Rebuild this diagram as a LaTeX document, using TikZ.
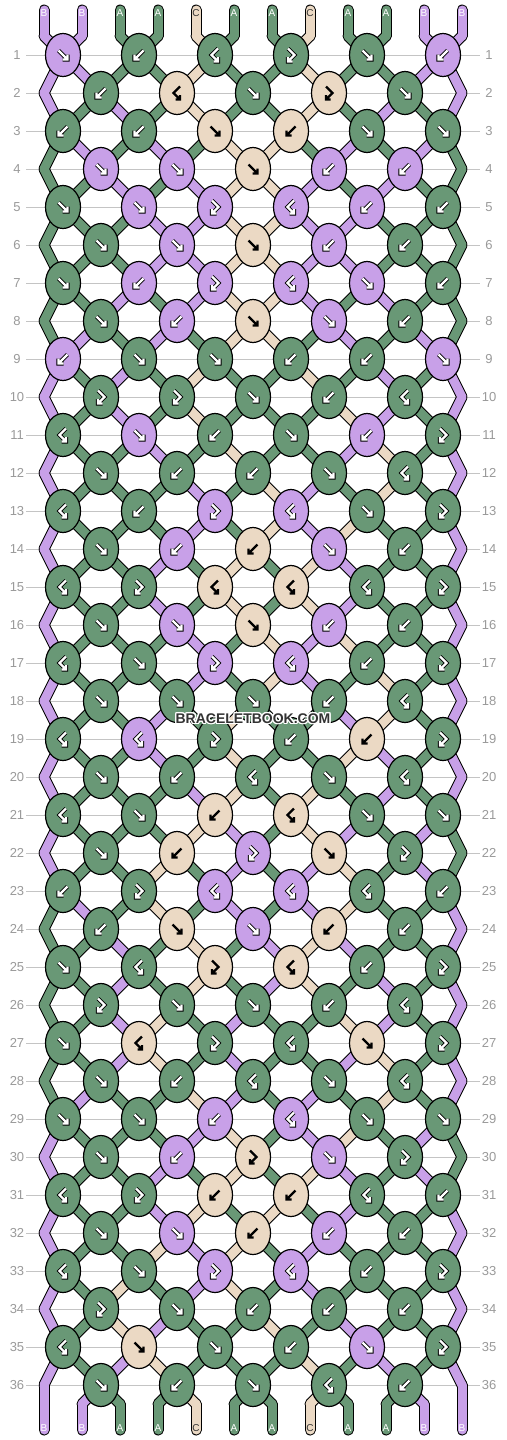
\documentclass[tikz,border=0pt]{standalone}
\usepackage{fontspec}
\setmainfont{Liberation Sans}
\usepackage{xcolor}
\usepackage{contour}
\usetikzlibrary{shapes.geometric}
\definecolor{bb-gruen}{HTML}{699876}
\definecolor{bb-lila}{HTML}{C8A0E8}
\definecolor{bb-beige}{HTML}{EBD9C4}
\definecolor{bb-linie}{HTML}{C4C4C4}
\definecolor{bb-zahl}{HTML}{9A9A9A}
\definecolor{bb-schrift}{HTML}{333333}
\colorlet{faden-A}{bb-gruen}
\colorlet{faden-B}{bb-lila}
\colorlet{faden-C}{bb-beige}
\contourlength{1.2pt}

\tikzset{
    knoten/.style={ellipse, draw=black, line width=1.2pt, minimum width=35pt, minimum height=43pt, inner sep=0pt},
    fadenrand/.style={black, line width=11pt, line cap=round},
    fadenmitte/.style={line width=9pt, line cap=round},
    nummer/.style={text=bb-zahl, font=\fontsize{13}{13}\selectfont},
    ende/.style={font=\fontsize{10}{10}\selectfont, inner sep=0pt},
    wasserzeichen/.style={text=bb-schrift, font=\fontsize{14}{14}\selectfont\bfseries},
    pfeil/.style={},
    pics/vor/.style={code={\draw[pfeil] (-4.5,-4.5) -- (4.5,4.5) (-0.5,4.5) -- (4.5,4.5) -- (4.5,-0.5);}},
    pics/rueck/.style={code={\draw[pfeil] (4.5,-4.5) -- (-4.5,4.5) (0.5,4.5) -- (-4.5,4.5) -- (-4.5,-0.5);}},
    pics/vorrueck/.style={code={\draw[pfeil] (-3,-6.5) -- (3.5,0) -- (-3,6.5) (1.5,6.5) -- (-3,6.5) -- (-3,2);}},
    pics/rueckvor/.style={code={\draw[pfeil] (3,-6.5) -- (-3.5,0) -- (3,6.5) (-1.5,6.5) -- (3,6.5) -- (3,2);}},
}

% Eintrag global an eine Liste hängen
\newcommand\anhaengen[2]{%
    \ifx#1\empty\xdef#1{#2}\else\xdef#1{#1,#2}\fi
}

\begin{document}
\begin{tikzpicture}[x=1pt, y=-1pt]
    \fill[white] (0,0) rectangle (506,1440);
    \useasboundingbox (0,0) rectangle (506,1440);

    % Reihenlinien und Nummern
    \foreach \rnr in {1,...,36} {
        \pgfmathsetmacro\ypos{55+38*(\rnr-1)}
        \draw[bb-linie, line width=1pt] (26,\ypos) -- (480,\ypos);
        \node[nummer] (nl-\rnr) at (17,\ypos) {\rnr};
        \node[nummer] (nr-\rnr) at (489,\ypos) {\rnr};
    }

    \gdef\segmente{}
    \gdef\knotenliste{}

    % Startfarben der Fäden oben
    \foreach \startfarbe [count=\fnr] in {B,B,A,A,C,A,A,C,A,A,B,B} {
        \expandafter\xdef\csname s\fnr\endcsname{\startfarbe}
        \expandafter\xdef\csname l\fnr\endcsname{u-\fnr}
        \coordinate (t-\fnr) at ({44+38*(\fnr-1)},10);
        \coordinate (u-\fnr) at ({44+38*(\fnr-1)},36);
        \anhaengen\segmente{\startfarbe/t-\fnr/u-\fnr}
    }

    % Knoten Reihe für Reihe (0 = vor, 1 = rück, 2 = vor-rück, 3 = rück-vor)
    \foreach \typ [count=\nr] in {0,1,3,2,0,1,
        1,3,0,2,0,
        1,1,0,1,0,0,
        0,0,0,1,1,
        0,0,2,3,1,1,
        0,0,0,1,1,
        0,1,2,3,0,1,
        0,1,0,0,1,
        1,0,0,1,1,0,
        2,2,0,1,3,
        3,0,1,0,1,2,
        0,1,1,0,3,
        3,1,2,3,0,2,
        0,1,1,0,1,
        3,2,3,3,3,2,
        0,0,0,1,1,
        3,0,2,3,1,2,
        0,0,0,1,3,
        3,3,2,1,1,2,
        0,1,3,0,3,
        3,0,1,3,0,0,
        0,1,2,0,2,
        1,2,3,3,3,1,
        1,0,0,1,1,
        0,3,2,3,1,2,
        2,0,0,1,3,
        0,3,2,3,0,2,
        0,1,3,0,3,
        0,0,1,3,0,0,
        0,1,2,0,2,
        3,2,1,1,3,1,
        0,0,1,1,1,
        3,0,2,3,1,2,
        2,0,1,1,1,
        3,0,0,1,0,2,
        0,1,0,3,1} {
        \pgfmathtruncatemacro\paar{(\nr-1)/11}
        \pgfmathtruncatemacro\mm{mod(\nr-1,11)}
        \ifnum\mm<6
            \pgfmathtruncatemacro\rnr{2*\paar+1}
            \pgfmathtruncatemacro\knr{\mm+1}
            \pgfmathtruncatemacro\posA{2*\knr-1}
            \pgfmathsetmacro\xpos{63+76*(\knr-1)}
        \else
            \pgfmathtruncatemacro\rnr{2*\paar+2}
            \pgfmathtruncatemacro\knr{\mm-5}
            \pgfmathtruncatemacro\posA{2*\knr}
            \pgfmathsetmacro\xpos{101+76*(\knr-1)}
        \fi
        \pgfmathtruncatemacro\posB{\posA+1}
        \pgfmathsetmacro\ypos{55+38*(\rnr-1)}

        % Randfäden in geraden Reihen
        \ifnum\mm=6
            \coordinate (e-\rnr-1) at (44,\ypos);
            \coordinate (e-\rnr-12) at (462,\ypos);
            \anhaengen\segmente{\csname s1\endcsname/\csname l1\endcsname/e-\rnr-1}
            \anhaengen\segmente{\csname s12\endcsname/\csname l12\endcsname/e-\rnr-12}
            \expandafter\xdef\csname l1\endcsname{e-\rnr-1}
            \expandafter\xdef\csname l12\endcsname{e-\rnr-12}
        \fi

        \edef\farbeA{\csname s\posA\endcsname}
        \edef\farbeB{\csname s\posB\endcsname}
        \ifcase\typ\relax
            \let\kfarbe\farbeA \def\glyph{vor}
        \or
            \let\kfarbe\farbeB \def\glyph{rueck}
        \or
            \let\kfarbe\farbeA \def\glyph{vorrueck}
        \or
            \let\kfarbe\farbeB \def\glyph{rueckvor}
        \fi

        \coordinate (p-\rnr-\knr) at (\xpos,\ypos);
        \anhaengen\segmente{\farbeA/\csname l\posA\endcsname/p-\rnr-\knr}
        \anhaengen\segmente{\farbeB/\csname l\posB\endcsname/p-\rnr-\knr}
        \anhaengen\knotenliste{\rnr/\knr/\kfarbe/\glyph}

        % vor und rück tauschen die Fäden
        \ifnum\typ<2
            \expandafter\xdef\csname s\posA\endcsname{\farbeB}
            \expandafter\xdef\csname s\posB\endcsname{\farbeA}
        \fi
        \expandafter\xdef\csname l\posA\endcsname{p-\rnr-\knr}
        \expandafter\xdef\csname l\posB\endcsname{p-\rnr-\knr}
    }

    % Fadenenden unten
    \foreach \fnr in {1,...,12} {
        \coordinate (v-\fnr) at ({44+38*(\fnr-1)},1404);
        \coordinate (z-\fnr) at ({44+38*(\fnr-1)},1430);
        \anhaengen\segmente{\csname s\fnr\endcsname/\csname l\fnr\endcsname/v-\fnr}
        \anhaengen\segmente{\csname s\fnr\endcsname/v-\fnr/z-\fnr}
    }

    % erst alle Ränder, dann alle Farben
    \foreach \farbe/\von/\nach in \segmente {
        \draw[fadenrand] (\von) -- (\nach);
    }
    \foreach \farbe/\von/\nach in \segmente {
        \draw[fadenmitte, color=faden-\farbe] (\von) -- (\nach);
    }

    % Knoten mit Pfeilen
    \foreach \rnr/\knr/\kfarbe/\glyph in \knotenliste {
        \node[knoten, fill=faden-\kfarbe] (k-\rnr-\knr) at (p-\rnr-\knr) {};
        \if C\kfarbe
            \tikzset{pfeil/.style={black, line width=2.4pt}}
        \else
            \tikzset{pfeil/.style={black, line width=1pt, double=white, double distance=2.2pt}}
        \fi
        \pic at (k-\rnr-\knr) {\glyph};
    }

    % Buchstaben an den Enden
    \foreach \startfarbe [count=\fnr] in {B,B,A,A,C,A,A,C,A,A,B,B} {
        \edef\farbe{\csname s\fnr\endcsname}
        \if C\startfarbe
            \node[ende, text=bb-schrift] (oben-\fnr) at ({44+38*(\fnr-1)},13) {\startfarbe};
        \else
            \node[ende, text=white] (oben-\fnr) at ({44+38*(\fnr-1)},13) {\startfarbe};
        \fi
        \if C\farbe
            \node[ende, text=bb-schrift] (unten-\fnr) at ({44+38*(\fnr-1)},1428) {\farbe};
        \else
            \node[ende, text=white] (unten-\fnr) at ({44+38*(\fnr-1)},1428) {\farbe};
        \fi
    }

    \node[wasserzeichen] (wz) at (253,719) {\contour{white}{BRACELETBOOK.COM}};
\end{tikzpicture}
\end{document}
